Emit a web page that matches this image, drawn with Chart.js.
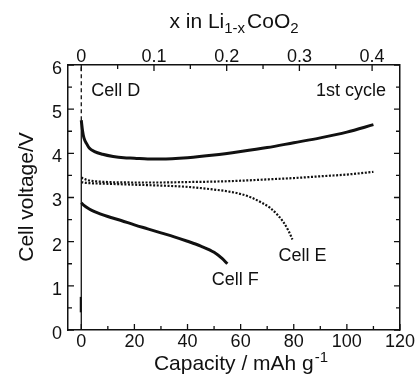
<!DOCTYPE html>
<html>
<head>
<meta charset="utf-8">
<script src="https://cdn.jsdelivr.net/npm/chart.js@4/dist/chart.umd.min.js"></script>
<style>
  html, body { margin: 0; padding: 0; background: #fff; }
  #c { display: block; }
</style>
</head>
<body>
<canvas id="c" width="416" height="378"></canvas>
<script>
// capacity (mAh/g) and voltage (V)
const capCharge = [0, 0.5, 1, 2, 3, 5, 8, 12, 16, 20, 25, 30, 40, 50, 60, 70, 80, 90, 100, 110];
const voltCharge = [4.75, 4.5, 4.35, 4.22, 4.12, 4.04, 3.98, 3.93, 3.9, 3.89, 3.87, 3.87, 3.9, 3.96, 4.04, 4.13, 4.24, 4.35, 4.48, 4.65];

const capDotCharge = [0, 2, 5, 10, 20, 30, 40, 50, 60, 70, 80, 90, 100, 110];
const voltDotCharge = [3.45, 3.4, 3.37, 3.35, 3.34, 3.34, 3.35, 3.36, 3.38, 3.41, 3.44, 3.48, 3.52, 3.58];

const capCellE = [0, 2, 5, 10, 20, 30, 40, 50, 55, 60, 64, 68, 71, 74, 76, 78, 79.5];
const voltCellE = [3.35, 3.33, 3.32, 3.31, 3.29, 3.27, 3.24, 3.18, 3.14, 3.08, 3.0, 2.88, 2.77, 2.6, 2.45, 2.25, 2.05];

const capCellF = [0, 1, 3, 5, 10, 15, 20, 25, 30, 35, 40, 45, 50, 53, 55];
const voltCellF = [2.88, 2.82, 2.74, 2.68, 2.57, 2.48, 2.38, 2.29, 2.2, 2.11, 2.01, 1.9, 1.76, 1.62, 1.5];

const capCellD = [0, 0];
const voltCellD = [4.75, 6];
const capStart = [0, 0];
const voltStart = [0, 4.75];
const capBlob = [-0.2, -0.2];
const voltBlob = [0.4, 0.75];

// axis ticks
const capTicks = [0, 20, 40, 60, 80, 100, 120];
const capMinor = [10, 30, 50, 70, 90, 110];
const xTicks = [0, 0.1, 0.2, 0.3, 0.4];
const xMinor = [0.05, 0.15, 0.25, 0.35];
const voltTicks = [0, 1, 2, 3, 4, 5, 6];
const voltMinor = [0.5, 1.5, 2.5, 3.5, 4.5, 5.5];
const capPerX = 273.75; // mAh/g for x = 1

function pts(xs, ys) { return xs.map((x, i) => ({ x: x, y: ys[i] })); }

const ink = '#111';
const fontName = '"Liberation Sans", Arial, sans-serif';

const frameTicks = {
  id: 'frameTicks',
  afterDraw(chart) {
    const { ctx, chartArea: a, scales } = chart;
    ctx.save();
    ctx.strokeStyle = ink;
    ctx.lineWidth = 1.3;
    const tickX = (scale, vals, len, top) => vals.forEach(v => {
      const px = scale.getPixelForValue(v);
      ctx.beginPath();
      if (top) { ctx.moveTo(px, a.top); ctx.lineTo(px, a.top + len); }
      else { ctx.moveTo(px, a.bottom); ctx.lineTo(px, a.bottom - len); }
      ctx.stroke();
    });
    tickX(scales.x, capTicks, 6, false);
    tickX(scales.x, capMinor, 4, false);
    tickX(scales.x2, xTicks, 6, true);
    tickX(scales.x2, xMinor, 4, true);
    const tickY = (vals, len) => vals.forEach(v => {
      const py = scales.y.getPixelForValue(v);
      ctx.beginPath();
      ctx.moveTo(a.left, py); ctx.lineTo(a.left + len, py);
      ctx.moveTo(a.right, py); ctx.lineTo(a.right - len, py);
      ctx.stroke();
    });
    tickY(voltTicks, 6);
    tickY(voltMinor, 4);

    ctx.fillStyle = ink;
    ctx.textBaseline = 'alphabetic';
    // top title with subscripts
    const parts = [['x in Li', 21, 0], ['1-x', 15, 5], ['CoO', 21, 0], ['2', 15, 5]];
    let w = 0;
    parts.forEach(p => { ctx.font = p[1] + 'px ' + fontName; w += ctx.measureText(p[0]).width + (p[1] < 20 ? 2 : 0); });
    let cx = 235 - w / 2;
    parts.forEach(p => {
      ctx.font = p[1] + 'px ' + fontName;
      ctx.fillText(p[0], cx, 28 + p[2]);
      cx += ctx.measureText(p[0]).width + (p[1] < 20 ? 2 : 0);
    });
    // bottom title with superscript
    ctx.font = '21px ' + fontName;
    const main = 'Capacity / mAh g';
    const mw = ctx.measureText(main).width;
    ctx.font = '15px ' + fontName;
    const sw = ctx.measureText('-1').width;
    let bx = 241 - (mw + sw + 1) / 2;
    ctx.font = '21px ' + fontName;
    ctx.fillText(main, bx, 370);
    ctx.font = '15px ' + fontName;
    ctx.fillText('-1', bx + mw + 1, 362);
    // y title
    ctx.save();
    ctx.translate(27, 197);
    ctx.rotate(-Math.PI / 2);
    ctx.font = '21px ' + fontName;
    ctx.textAlign = 'center';
    ctx.textBaseline = 'middle';
    ctx.fillText('Cell voltage/V', 0, 0);
    ctx.restore();
    // curve labels
    ctx.font = '18px ' + fontName;
    const label = (t, x, y, align) => {
      ctx.textAlign = align;
      ctx.fillText(t, scales.x.getPixelForValue(x), scales.y.getPixelForValue(y));
    };
    label('Cell D', 3.75, 5.3, 'left');
    label('1st cycle', 114.75, 5.3, 'right');
    label('Cell E', 74.25, 1.56, 'left');
    label('Cell F', 49.1, 1.02, 'left');
    ctx.restore();
  }
};

const line = (data, width, dash, smooth) => ({
  data: data,
  showLine: true,
  borderColor: ink,
  backgroundColor: ink,
  borderWidth: width,
  borderDash: dash,
  pointRadius: 0,
  fill: false,
  cubicInterpolationMode: smooth ? 'monotone' : 'default',
  tension: smooth ? 0.4 : 0
});

new Chart(document.getElementById('c'), {
  type: 'scatter',
  data: {
    datasets: [
      line(pts(capStart, voltStart), 1.3, [], false),
      line(pts(capCellD, voltCellD), 1.3, [4, 3], false),
      line(pts(capBlob, voltBlob), 2, [], false),
      line(pts(capCharge, voltCharge), 3, [], true),
      line(pts(capDotCharge, voltDotCharge), 2.2, [2, 1.6], true),
      line(pts(capCellE, voltCellE), 2.2, [2, 1.6], true),
      line(pts(capCellF, voltCellF), 3, [], true)
    ]
  },
  options: {
    responsive: false,
    animation: false,
    devicePixelRatio: 1,
    layout: { padding: 0 },
    plugins: { legend: { display: false }, tooltip: { enabled: false } },
    scales: {
      x: {
        type: 'linear', position: 'bottom', min: -5, max: 120,
        afterBuildTicks: s => { s.ticks = capTicks.map(v => ({ value: v })); },
        afterFit: s => { s.height = 48; },
        grid: { display: false, drawTicks: false },
        border: { display: true, color: ink, width: 1.5 },
        ticks: { color: ink, font: { family: fontName, size: 18 }, padding: 1, maxRotation: 0, autoSkip: false }
      },
      x2: {
        type: 'linear', position: 'top', min: -5 / capPerX, max: 120 / capPerX,
        afterBuildTicks: s => { s.ticks = xTicks.map(v => ({ value: v })); },
        afterFit: s => { s.height = 65; },
        grid: { display: false, drawTicks: false },
        border: { display: true, color: ink, width: 1.5 },
        ticks: { color: ink, font: { family: fontName, size: 18 }, padding: -3, maxRotation: 0, autoSkip: false }
      },
      y: {
        type: 'linear', position: 'left', min: 0, max: 6,
        afterBuildTicks: s => { s.ticks = voltTicks.map(v => ({ value: v })); },
        afterFit: s => { s.width = 68; },
        grid: { display: false, drawTicks: false },
        border: { display: true, color: ink, width: 1.5 },
        ticks: { color: ink, font: { family: fontName, size: 18 }, padding: 6, labelOffset: 4 }
      },
      y2: {
        type: 'linear', position: 'right', min: 0, max: 6,
        afterFit: s => { s.width = 14; },
        grid: { display: false, drawTicks: false },
        border: { display: true, color: ink, width: 1.5 },
        ticks: { display: false }
      }
    }
  },
  plugins: [frameTicks]
});
</script>
</body>
</html>
